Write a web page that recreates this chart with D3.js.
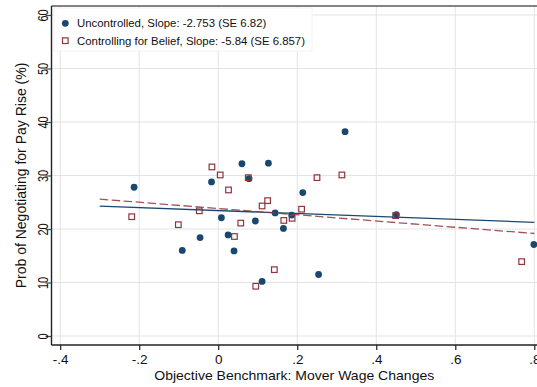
<!DOCTYPE html>
<html>
<head>
<meta charset="utf-8">
<script src="https://cdn.jsdelivr.net/npm/d3@7"></script>
<style>
  html, body { margin: 0; padding: 0; background: #fff; }
  svg { display: block; font-family: "Liberation Sans", Arial, sans-serif; }
</style>
</head>
<body>
<svg id="chart" width="537" height="387"></svg>
<script>
// Benchmark (mover wage change) per group
const uncontrolledX = [-0.213, -0.017, 0.060, 0.127, 0.078, 0.214, 0.008, 0.094, 0.144, 0.186,
                       0.165, -0.046, 0.025, -0.091, 0.040, 0.111, 0.254, 0.321, 0.451, 0.799];
// Probability of negotiating (%), raw
const uncontrolledY = [27.8, 28.8, 32.2, 32.3, 29.4, 26.8, 22.1, 21.5, 23.0, 22.6,
                       20.1, 18.4, 18.9, 16.0, 15.9, 10.2, 11.5, 38.2, 22.7, 17.1];
const controlledX = [-0.219, -0.101, -0.048, -0.016, 0.005, 0.026, 0.076, 0.057, 0.041, 0.111,
                     0.125, 0.166, 0.187, 0.211, 0.250, 0.142, 0.095, 0.313, 0.449, 0.768];
// Probability of negotiating (%), controlling for belief
const controlledY = [22.3, 20.8, 23.4, 31.6, 30.1, 27.3, 29.6, 21.1, 18.6, 24.3,
                     25.3, 21.6, 22.0, 23.7, 29.6, 12.4, 9.3, 30.1, 22.5, 13.9];

// Fitted lines: intercept and slope, drawn over the fitted range
const fitIntercepts = [23.44, 23.83];
const fitSlopes = [-2.753, -5.84];
const fitRange = [-0.3, 0.8];

const xTicks = [-0.4, -0.2, 0, 0.2, 0.4, 0.6, 0.8];
const xTickLabels = ["-.4", "-.2", "0", ".2", ".4", ".6", ".8"];
const yTicks = [0, 10, 20, 30, 40, 50, 60];
const legendLabels = ["Uncontrolled, Slope: -2.753 (SE 6.82)",
                      "Controlling for Belief, Slope: -5.84 (SE 6.857)"];

const navy = "#1a476f";
const maroon = "#90353b";
const gridColor = "#e3e3e3";

const svg = d3.select("#chart");
const plotL = 51.5, plotR = 537, plotT = 6, plotB = 345;

const x = d3.scaleLinear().domain([-0.4, 0.8]).range([60.2, 534.3]);
const y = d3.scaleLinear().domain([0, 60]).range([336, 15]);

// grid
const grid = svg.append("g");
grid.selectAll("line.v").data(xTicks).join("line").attr("class", "v")
  .attr("x1", d => x(d)).attr("x2", d => x(d))
  .attr("y1", plotT).attr("y2", plotB)
  .attr("stroke", gridColor).attr("stroke-width", 1);
grid.selectAll("line.h").data(yTicks).join("line").attr("class", "h")
  .attr("x1", plotL).attr("x2", plotR)
  .attr("y1", d => y(d)).attr("y2", d => y(d))
  .attr("stroke", gridColor).attr("stroke-width", 1);

// points
const plot = svg.append("g");
const ptsA = uncontrolledX.map((v, i) => [v, uncontrolledY[i]]);
const ptsB = controlledX.map((v, i) => [v, controlledY[i]]);
plot.selectAll("circle").data(ptsA).join("circle")
  .attr("cx", d => x(d[0])).attr("cy", d => y(d[1]))
  .attr("r", 3.4).attr("fill", navy);
const sq = 5.6;
plot.selectAll("rect").data(ptsB).join("rect")
  .attr("x", d => x(d[0]) - sq / 2).attr("y", d => y(d[1]) - sq / 2)
  .attr("width", sq).attr("height", sq)
  .attr("fill", "none").attr("stroke", maroon).attr("stroke-width", 1.2);

// fitted lines
const line = d3.line().x(d => x(d[0])).y(d => y(d[1]));
fitIntercepts.forEach((b, i) => {
  const pts = fitRange.map(v => [v, b + fitSlopes[i] * v]);
  plot.append("path").attr("d", line(pts))
    .attr("fill", "none")
    .attr("stroke", i === 0 ? navy : maroon)
    .attr("stroke-width", 1.3)
    .attr("stroke-opacity", i === 0 ? 1 : 0.85)
    .attr("stroke-dasharray", i === 0 ? null : "8.5,3.5");
});

// frame and axes
svg.append("line").attr("x1", plotL).attr("x2", plotR).attr("y1", plotT).attr("y2", plotT)
  .attr("stroke", "#5a5a5a").attr("stroke-width", 1.5);

const xAxis = d3.axisBottom(x).tickValues(xTicks)
  .tickFormat((d, i) => xTickLabels[i]).tickSize(5).tickSizeOuter(0);
const gx = svg.append("g").attr("transform", `translate(0,${plotB})`).call(xAxis);
gx.select(".domain").attr("d", `M${plotL},0H${plotR}`).attr("stroke", "#222").attr("stroke-width", 1.4);
gx.selectAll(".tick line").attr("stroke", "#222").attr("stroke-width", 1.2);
gx.selectAll(".tick text").attr("font-size", 13.5).attr("fill", "#111")
  .attr("font-family", "Liberation Sans, Arial, sans-serif").attr("dy", null).attr("y", 18.5);

const yAxis = d3.axisLeft(y).tickValues(yTicks).tickSize(6).tickSizeOuter(0);
const gy = svg.append("g").attr("transform", `translate(${plotL},0)`).call(yAxis);
gy.select(".domain").attr("d", `M0,${plotT}V${plotB}`).attr("stroke", "#222").attr("stroke-width", 1.4);
gy.selectAll(".tick line").attr("stroke", "#444").attr("stroke-width", 1.2);
gy.selectAll(".tick text")
  .attr("font-size", 14).attr("fill", "#111")
  .attr("font-family", "Liberation Sans, Arial, sans-serif")
  .attr("x", null).attr("dy", null)
  .attr("text-anchor", "middle")
  .attr("transform", "translate(-3.5,0) rotate(-90)")
  .each(function () {
    const len = this.getComputedTextLength();
    d3.select(this).attr("textLength", len * 0.78).attr("lengthAdjust", "spacingAndGlyphs");
  });

// axis titles
svg.append("text")
  .attr("x", (plotL + plotR) / 2).attr("y", 379.5)
  .attr("text-anchor", "middle").attr("font-size", 13.5).attr("fill", "#111")
  .attr("textLength", 280).attr("lengthAdjust", "spacingAndGlyphs")
  .text("Objective Benchmark: Mover Wage Changes");
svg.append("text")
  .attr("transform", `translate(26,${(plotT + plotB) / 2}) rotate(-90)`)
  .attr("text-anchor", "middle").attr("font-size", 14).attr("fill", "#111")
  .text("Prob of Negotiating for Pay Rise (%)");

// legend
const lg = svg.append("g");
lg.append("rect").attr("x", 54).attr("y", 8).attr("width", 258).attr("height", 43)
  .attr("fill", "#fff").attr("stroke", "#f2f2f2");
lg.append("circle").attr("cx", 65.3).attr("cy", 23.3).attr("r", 3.4).attr("fill", navy);
lg.append("rect").attr("x", 65.3 - sq / 2).attr("y", 40.7 - sq / 2)
  .attr("width", sq).attr("height", sq)
  .attr("fill", "none").attr("stroke", maroon).attr("stroke-width", 1.2);
lg.selectAll("text").data(legendLabels).join("text")
  .attr("x", 77).attr("y", (d, i) => 27.4 + i * 17.4)
  .attr("font-size", 11.4).attr("fill", "#111")
  .text(d => d);
</script>
</body>
</html>
